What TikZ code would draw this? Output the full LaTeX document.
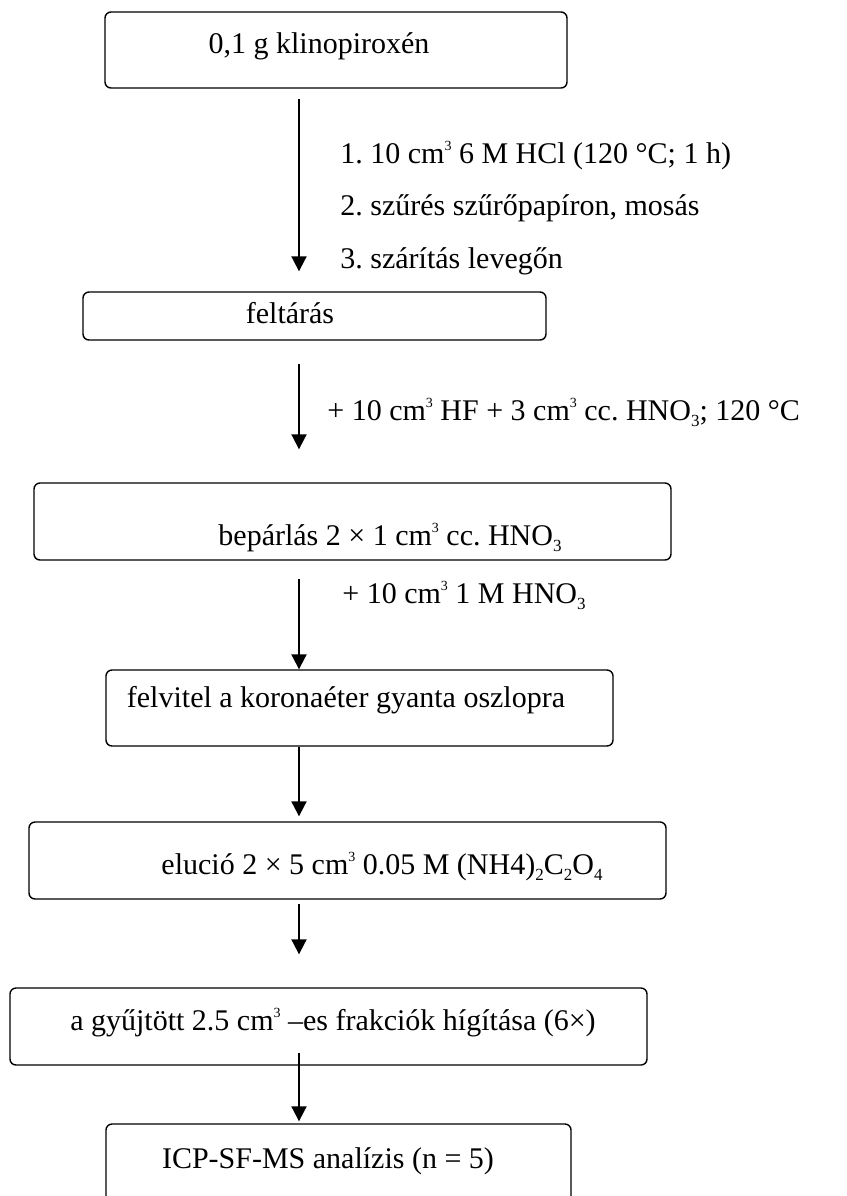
\documentclass[tikz,border=0pt]{standalone}
\usepackage{fontspec}
\setmainfont{Liberation Serif}
\usetikzlibrary{arrows.meta,fit}
\newcommand{\upthree}{\raisebox{0.9ex}{\fontsize{7}{8}\selectfont 3}}
\newcommand{\lowidx}[1]{\raisebox{-0.45ex}{\fontsize{8.5}{9}\selectfont #1}}
\begin{document}
\frenchspacing
\begin{tikzpicture}[
            x=0.5pt, y=-0.5pt,
            box/.style={
              draw, line width=0.7pt,
              rounded corners=3pt,
              inner sep=0pt
            },
            txt/.style={
              inner sep=0pt,
              font=\fontsize{15}{18}\selectfont
            },
            arr/.style={
              line width=1pt,
              -{Triangle[length=7.5pt,width=7.5pt]}
            }
        ]
    \useasboundingbox (0,0) rectangle (847,1196);
    \coordinate (ax) at (299,0);

    % boxes
    \node[box, fit={(105,12) (567,88)}] (b1) {};
    \node[box, fit={(83,292) (546,340)}] (b2) {};
    \node[box, fit={(34,483) (671,560)}] (b3) {};
    \node[box, fit={(106,670) (613,746)}] (b4) {};
    \node[box, fit={(29,822) (666,899)}] (b5) {};
    \node[box, fit={(10,988) (647,1065)}] (b6) {};
    \node[box, fit={(106,1124) (571,1204)}] (b7) {};

    % texts in the boxes
    \node[txt, anchor=base] (t1) at (319,53) {0,1 g klinopiroxén};
    \node[txt, anchor=base] (t2) at (290,323) {feltárás};
    \node[txt, anchor=base] (t3) at (390,545)
      {bepárlás 2 × 1 cm\upthree{} cc. HNO\lowidx{3}};
    \node[txt, anchor=base] (t4) at (346,707)
      {felvitel a koronaéter gyanta oszlopra};
    \node[txt, anchor=base] (t5) at (382,874)
      {elució 2 × 5 cm\upthree{} 0.05 M (NH4)\lowidx{2}C\lowidx{2}O\lowidx{4}};
    \node[txt, anchor=base] (t6) at (333,1030)
      {a gyűjtött 2.5 cm\upthree{} –es frakciók hígítása (6×)};
    \node[txt, anchor=base] (t7) at (328,1168) {ICP-SF-MS analízis (n = 5)};

    % arrows
    \foreach \a/\b/\s/\e in {b1/b2/5/10, b2/b3/11.5/16.5, b3/b4/9/0,
                             b4/b5/0/2.5, b5/b6/2/16.5, b6/b7/-6.5/1}
      \draw[arr, shorten <=\s pt, shorten >=\e pt] (\a.south -| ax) -- (\b.north -| ax);

    % step labels
    \foreach \y/\n [count=\i] in {163/{1. 10 cm\upthree{} 6 M HCl (120 °C; 1 h)},
                                  215/{2. szűrés szűrőpapíron, mosás},
                                  268/{3. szárítás levegőn}}
      \node[txt, anchor=base west] (s\i) at (340,\y) {\n};
    \node[txt, anchor=base west] (s4) at (327,420)
      {+ 10 cm\upthree{} HF + 3 cm\upthree{} cc. HNO\lowidx{3}; 120 °C};
    \node[txt, anchor=base west] (s5) at (342,603)
      {+ 10 cm\upthree{} 1 M HNO\lowidx{3}};

\end{tikzpicture}
\end{document}
